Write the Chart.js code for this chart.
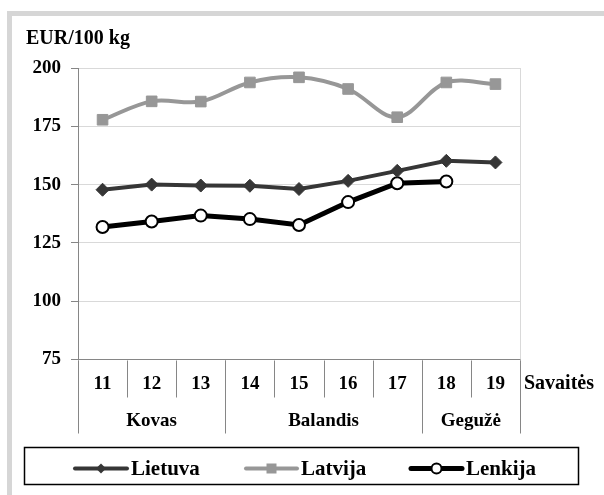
<!DOCTYPE html>
<html>
<head>
<meta charset="utf-8">
<script src="https://cdn.jsdelivr.net/npm/chart.js@4/dist/chart.umd.min.js"></script>
<style>
html,body{margin:0;padding:0;background:#fff;}
</style>
</head>
<body>
<canvas id="c" width="604" height="495"></canvas>
<script>
const weeks = ['11','12','13','14','15','16','17','18','19'];
const monthLabels = ['Kovas','Balandis','Gegužė'];
const monthSpans = [3,4,2];
const lietuva = [147.8,150,149.6,149.5,148.1,151.6,155.9,160.2,159.5];
const latvija = [177.8,185.7,185.6,193.8,196,191,178.9,193.8,193.1];
const lenkija = [131.8,134.2,136.7,135.2,132.7,142.5,150.6,151.3,null];
const seriesNames = ['Lietuva','Latvija','Lenkija'];
const yTicks = [75,100,125,150,175,200];
const yUnit = 'EUR/100 kg';
const xTitle = 'Savaitės';

const FONT = 'Liberation Serif';
const C_LT = '#363636', C_LV = '#979797', C_PL = '#000000';
const AXIS = '#868686';
Chart.defaults.font.family = FONT;

function f(size) { return 'bold ' + size + 'px "' + FONT + '"'; }

const decor = {
  id: 'decor',
  beforeDraw(chart) {
    const ctx = chart.ctx;
    ctx.save();
    ctx.fillStyle = '#fff';
    ctx.fillRect(0,0,chart.width,chart.height);
    ctx.fillStyle = '#d6d6d6';
    ctx.fillRect(7,11,chart.width-7,5);
    ctx.fillRect(7,11,5,chart.height-11);
    ctx.restore();
  },
  beforeDatasetsDraw(chart) {
    const ctx = chart.ctx, a = chart.chartArea;
    ctx.save();
    ctx.strokeStyle = '#d9d9d9';
    ctx.lineWidth = 1;
    ctx.beginPath();
    ctx.moveTo(Math.round(a.right)+0.5, a.top);
    ctx.lineTo(Math.round(a.right)+0.5, a.bottom);
    ctx.stroke();
    ctx.restore();
  },
  afterDraw(chart) {
    const ctx = chart.ctx, a = chart.chartArea, xs = chart.scales.x;
    const step = (a.right - a.left) / weeks.length;
    const y0 = Math.round(a.bottom) + 0.5;
    ctx.save();
    ctx.strokeStyle = AXIS;
    ctx.lineWidth = 1;
    for (let i = 0; i <= weeks.length; i++) {
      const x = Math.round(a.left + i*step) + 0.5;
      ctx.beginPath(); ctx.moveTo(x, y0); ctx.lineTo(x, y0 + 37); ctx.stroke();
    }
    let idx = 0;
    const bounds = [0];
    monthSpans.forEach(s => { idx += s; bounds.push(idx); });
    bounds.forEach(b => {
      const x = Math.round(a.left + b*step) + 0.5;
      ctx.beginPath(); ctx.moveTo(x, y0); ctx.lineTo(x, y0 + 73); ctx.stroke();
    });
    ctx.fillStyle = '#000';
    ctx.font = f(19);
    ctx.textAlign = 'center';
    ctx.textBaseline = 'middle';
    weeks.forEach((w,i) => ctx.fillText(w, xs.getPixelForValue(i), 384));
    monthLabels.forEach((m,i) => {
      const cx = a.left + (bounds[i] + bounds[i+1]) / 2 * step;
      ctx.fillText(m, cx, 421);
    });
    ctx.textAlign = 'left';
    ctx.font = f(20);
    ctx.fillText(xTitle, 524, 384);
    ctx.textBaseline = 'alphabetic';
    ctx.fillText(yUnit, 26, 44);

    ctx.strokeStyle = '#000';
    ctx.lineWidth = 1.5;
    ctx.strokeRect(24.5, 447.5, 554, 37);
    const items = [
      {x0:75, x1:127, tx:131, color:C_LT, lw:4, marker:'diamond'},
      {x0:246, x1:297, tx:301, color:C_LV, lw:4, marker:'square'},
      {x0:411, x1:462, tx:466, color:C_PL, lw:5, marker:'circle'}
    ];
    const ly = 468.5;
    items.forEach((it,i) => {
      ctx.strokeStyle = it.color;
      ctx.lineWidth = it.lw;
      ctx.lineCap = 'round';
      ctx.beginPath(); ctx.moveTo(it.x0, ly); ctx.lineTo(it.x1, ly); ctx.stroke();
      const cx = (it.x0 + it.x1)/2;
      ctx.fillStyle = it.color;
      if (it.marker === 'diamond') {
        ctx.beginPath();
        ctx.moveTo(cx, ly-5); ctx.lineTo(cx+5, ly); ctx.lineTo(cx, ly+5); ctx.lineTo(cx-5, ly);
        ctx.closePath(); ctx.fill();
      } else if (it.marker === 'square') {
        ctx.fillRect(cx-5, ly-5, 10, 10);
      } else {
        ctx.beginPath(); ctx.arc(cx, ly, 5, 0, Math.PI*2);
        ctx.fillStyle = '#fff'; ctx.fill();
        ctx.lineWidth = 2; ctx.strokeStyle = '#000'; ctx.stroke();
      }
      ctx.fillStyle = '#000';
      ctx.font = f(21);
      ctx.textAlign = 'left';
      ctx.textBaseline = 'middle';
      ctx.fillText(seriesNames[i], it.tx, 470);
    });
    ctx.restore();
  }
};

const chart = new Chart(document.getElementById('c'), {
  type: 'line',
  data: {
    labels: weeks,
    datasets: [
      {
        label: seriesNames[0], data: lietuva,
        borderColor: C_LT, backgroundColor: C_LT, borderWidth: 4,
        pointStyle: 'rectRot', pointRadius: 6.5, pointBorderWidth: 1,
        pointBorderColor: C_LT, pointBackgroundColor: C_LT, tension: 0
      },
      {
        label: seriesNames[1], data: latvija,
        borderColor: C_LV, backgroundColor: C_LV, borderWidth: 4,
        pointStyle: 'rect', pointRadius: 7.5, pointBorderWidth: 1,
        pointBorderColor: C_LV, pointBackgroundColor: C_LV, tension: 0.35
      },
      {
        label: seriesNames[2], data: lenkija,
        borderColor: C_PL, backgroundColor: '#fff', borderWidth: 5,
        pointStyle: 'circle', pointRadius: 6, pointBorderWidth: 2,
        pointBorderColor: '#000', pointBackgroundColor: '#fff', tension: 0,
        spanGaps: false
      }
    ]
  },
  options: {
    responsive: false,
    animation: false,
    devicePixelRatio: 1,
    layout: { padding: { left: 0, top: 68, right: 84, bottom: 0 } },
    plugins: { legend: { display: false }, tooltip: { enabled: false } },
    scales: {
      x: {
        type: 'category',
        offset: true,
        grid: { display: false, drawTicks: false },
        border: { display: true, color: AXIS, width: 1 },
        ticks: { display: false },
        afterFit(s) { s.height = 135.5; }
      },
      y: {
        min: 75, max: 200,
        afterBuildTicks(s) { s.ticks = yTicks.map(v => ({ value: v })); },
        grid: { color: '#d9d9d9', tickColor: AXIS, tickLength: 7, drawTicks: true },
        border: { display: true, color: AXIS, width: 1 },
        ticks: {
          color: '#000', padding: 10,
          font: { family: FONT, size: 19, weight: 'bold' }
        },
        afterFit(s) { s.width = 78; }
      }
    }
  },
  plugins: [decor]
});
setTimeout(() => chart.render(), 100);
setTimeout(() => chart.render(), 400);
</script>
</body>
</html>
